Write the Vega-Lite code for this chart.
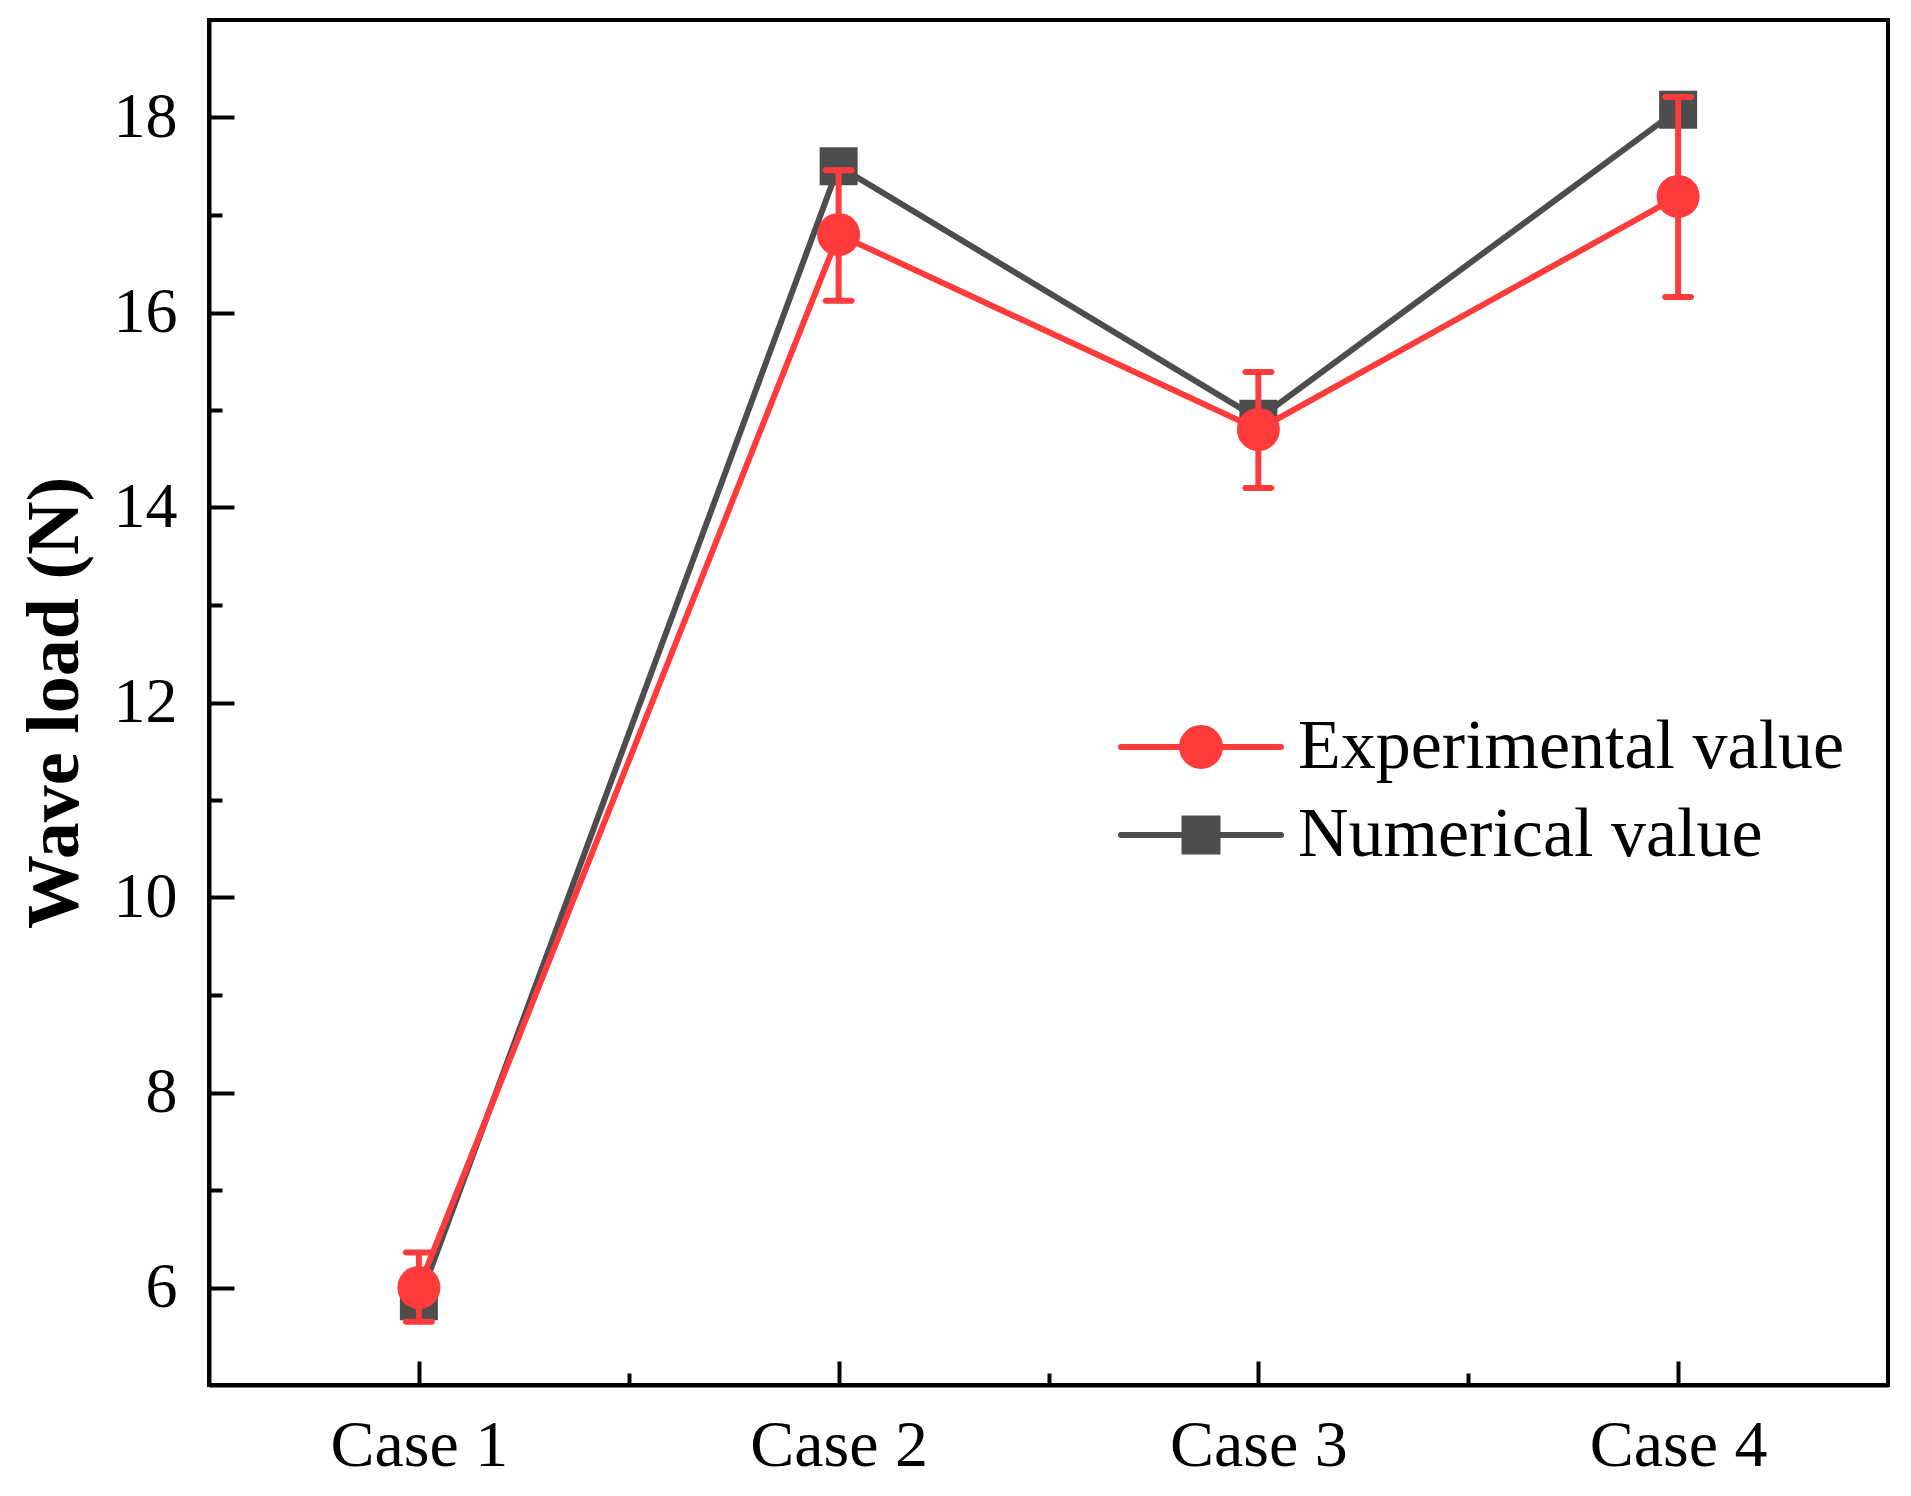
{
  "$schema": "https://vega.github.io/schema/vega-lite/v6.json",
  "description": "Wave load, experimental vs numerical, four cases",
  "width": 1679,
  "height": 1365,
  "autosize": {"type": "none"},
  "padding": {"left": 209, "top": 20, "right": 23, "bottom": 111},
  "background": "white",
  "datasets": {
    "exp": [
      {"case": 1, "series": "Experimental value", "value": 6.0, "lo": 5.65, "hi": 6.36},
      {"case": 2, "series": "Experimental value", "value": 16.8, "lo": 16.12, "hi": 17.46},
      {"case": 3, "series": "Experimental value", "value": 14.8, "lo": 14.2, "hi": 15.39},
      {"case": 4, "series": "Experimental value", "value": 17.19, "lo": 16.16, "hi": 18.21}
    ],
    "num": [
      {"case": 1, "series": "Numerical value", "value": 5.86},
      {"case": 2, "series": "Numerical value", "value": 17.5},
      {"case": 3, "series": "Numerical value", "value": 14.91},
      {"case": 4, "series": "Numerical value", "value": 18.08}
    ]
  },
  "encoding": {
    "x": {
      "field": "case",
      "type": "quantitative",
      "scale": {"domain": [0.5, 4.5], "nice": false, "zero": false},
      "axis": {
        "title": null,
        "values": [1, 1.5, 2, 2.5, 3, 3.5, 4],
        "labelExpr": "datum.value % 1 == 0 ? 'Case ' + datum.value : ''",
        "tickSize": {"condition": {"test": "datum.value % 1 == 0", "value": -24}, "value": -12},
        "labelPadding": 52,
        "labelFontSize": 66
      }
    },
    "y": {
      "field": "value",
      "type": "quantitative",
      "scale": {"domain": [5, 19], "nice": false, "zero": false},
      "axis": {
        "title": "Wave load (N)",
        "values": [6, 7, 8, 9, 10, 11, 12, 13, 14, 15, 16, 17, 18],
        "labelExpr": "datum.value % 2 == 0 ? datum.label : ''",
        "tickSize": {"condition": {"test": "datum.value % 2 == 0", "value": -25}, "value": -13},
        "labelPadding": 57,
        "labelFontSize": 64,
        "titleFontSize": 74,
        "titleFontWeight": "bold",
        "titlePadding": 20
      }
    },
    "color": {
      "field": "series",
      "type": "nominal",
      "scale": {"domain": ["Experimental value", "Numerical value"], "range": ["#FF3B3B", "#4D4D4D"]},
      "legend": {
        "title": null,
        "orient": "none",
        "legendX": 897,
        "legendY": 692,
        "padding": 0,
        "symbolSize": 1600,
        "symbolOffset": 60,
        "labelOffset": 62,
        "rowPadding": 18,
        "labelFont": "Liberation Serif",
        "labelFontSize": 70,
        "labelColor": "black",
        "labelLimit": 0,
        "encode": {
          "symbols": {
            "update": {
              "shape": {"signal": "datum.value == 'Experimental value' ? 'M-4,0L-0.95,0M0.95,0L4,0M-0.95,0A0.95,0.95,0,1,1,0.95,0A0.95,0.95,0,1,1,-0.95,0Z' : 'M-4,0L-0.825,0M0.825,0L4,0M-0.825,-0.825L0.825,-0.825L0.825,0.825L-0.825,0.825Z'"},
              "fill": {"signal": "datum.value == 'Experimental value' ? '#FF3B3B' : '#4D4D4D'"},
              "stroke": {"signal": "datum.value == 'Experimental value' ? '#FF3B3B' : '#4D4D4D'"},
              "strokeWidth": {"value": 6},
              "strokeCap": {"value": "round"},
              "size": {"value": 1600},
              "opacity": {"value": 1}
            }
          }
        }
      }
    }
  },
  "layer": [
    {
      "data": {"name": "num"},
      "mark": {"type": "line", "strokeWidth": 6}
    },
    {
      "data": {"name": "num"},
      "mark": {"type": "point", "shape": "square", "filled": true, "size": 1444, "opacity": 1}
    },
    {
      "data": {"name": "exp"},
      "mark": {"type": "line", "strokeWidth": 6}
    },
    {
      "data": {"name": "exp"},
      "mark": {"type": "rule", "strokeWidth": 6},
      "encoding": {"y": {"field": "lo", "type": "quantitative"}, "y2": {"field": "hi"}}
    },
    {
      "data": {"name": "exp"},
      "mark": {"type": "tick", "orient": "horizontal", "size": 32, "thickness": 6, "cornerRadius": 3, "opacity": 1},
      "encoding": {"y": {"field": "lo", "type": "quantitative"}}
    },
    {
      "data": {"name": "exp"},
      "mark": {"type": "tick", "orient": "horizontal", "size": 32, "thickness": 6, "cornerRadius": 3, "opacity": 1},
      "encoding": {"y": {"field": "hi", "type": "quantitative"}}
    },
    {
      "data": {"name": "exp"},
      "mark": {"type": "point", "shape": "circle", "filled": true, "size": 1850, "opacity": 1}
    }
  ],
  "config": {
    "font": "Liberation Serif",
    "view": {"stroke": "black", "strokeWidth": 4},
    "axis": {
      "grid": false,
      "domainColor": "black",
      "domainWidth": 4,
      "tickColor": "black",
      "tickWidth": 4,
      "labelColor": "black",
      "titleColor": "black",
      "labelFont": "Liberation Serif",
      "titleFont": "Liberation Serif"
    }
  }
}
